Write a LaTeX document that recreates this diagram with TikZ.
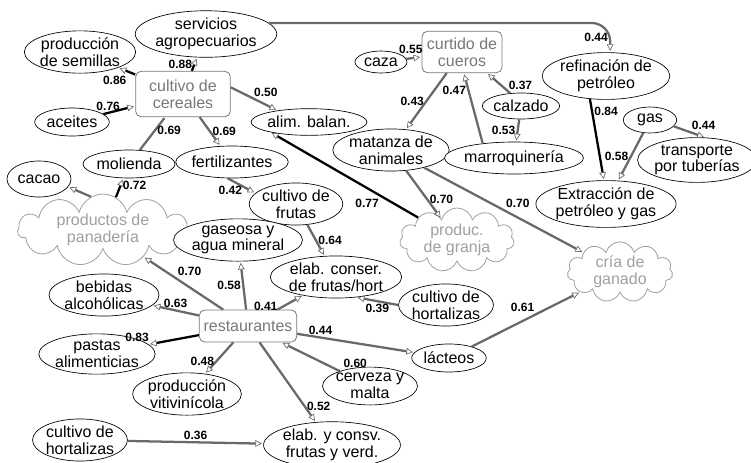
\documentclass[tikz,border=0pt]{standalone}
\usepackage{fontspec}
\setmainfont{Liberation Sans}
\usetikzlibrary{arrows.meta,shapes.geometric,shapes.symbols}

\definecolor{linkgray}{RGB}{105,105,105}
\definecolor{boxgray}{RGB}{120,120,120}
\definecolor{cloudgray}{RGB}{160,160,160}

\begin{document}
\begin{tikzpicture}[->,>={Triangle[open,length=5pt,width=5pt,line width=0.5pt,color=linkgray]},
                    shorten >=1pt,x=0.75pt,y=-0.75pt,line width=1.7pt]
  \tikzstyle{sector}=[ellipse,draw=black,line width=0.5pt,fill=white,align=center,
                      font=\fontsize{12}{12.5}\selectfont,inner xsep=-0.5pt,inner ysep=0.5pt,
                      minimum height=21pt]
  \tikzstyle{hub}=[rectangle,rounded corners=4pt,draw=boxgray,line width=0.6pt,fill=white,
                   text=boxgray,align=center,font=\fontsize{12}{13}\selectfont,inner sep=2pt]
  \tikzstyle{group}=[cloud,cloud puffs=11,cloud ignores aspect,draw=cloudgray,line width=0.6pt,
                     fill=white,text=cloudgray,align=center,font=\fontsize{12}{13}\selectfont,
                     inner sep=0pt]
  \tikzstyle{strong}=[draw=black]
  \tikzstyle{weak}=[draw=linkgray]
  \tikzstyle{wlabel}=[font=\fontsize{9}{10}\selectfont\bfseries,text=black,inner sep=1pt]

  \useasboundingbox (0,0) rectangle (751,462);

  % upper left: cereales
  \node[sector] (serv)  at (206,34)  {servicios\\agropecuarios};
  \node[sector] (semil) at (80,52)   {producción\\de semillas};
  \node[hub,minimum width=71pt,minimum height=34pt] (cereal) at (183,94) {cultivo de\\cereales};
  \node[sector,minimum width=56pt] (aceit) at (72,122)  {aceites};
  \node[sector,minimum width=81pt,minimum height=20pt] (alim) at (309,122) {alim. balan.};
  \node[sector,minimum width=69pt] (moli)  at (129,164) {molienda};
  \node[sector,minimum width=81pt,minimum height=24pt] (fert) at (232,162) {fertilizantes};
  \node[sector,minimum width=48pt,minimum height=27pt] (cacao) at (39,179) {cacao};
  \node[group,minimum width=128pt,minimum height=38pt] (panad) at (103,230) {productos de\\panadería};
  \node[sector] (frut)   at (296,204) {cultivo de\\frutas};
  \node[sector] (gaseo)  at (238,240) {gaseosa y\\agua mineral};
  \node[sector] (conser) at (336,277) {elab. conser.\\de frutas/hort};

  % lower left: restaurantes
  \node[sector] (bebid)  at (104,295) {bebidas\\alcohólicas};
  \node[hub,minimum width=73pt,minimum height=24pt] (resta) at (248,326) {restaurantes};
  \node[sector] (hortR)  at (446,305) {cultivo de\\hortalizas};
  \node[sector] (pasta)  at (97,354)  {pastas\\alimenticias};
  \node[sector] (vitiv)  at (187,394) {producción\\vitivinícola};
  \node[sector] (hortL)  at (80,440)  {cultivo de\\hortalizas};
  \node[sector] (consv)  at (332,445) {elab. y consv.\\frutas y verd.};
  \node[sector] (cerve)  at (370,386) {cerveza y\\malta};
  \node[sector,minimum width=56pt] (lacte) at (449,358) {lácteos};

  % right: cueros, ganado, petroleo
  \node[group,minimum width=79pt,minimum height=38pt] (cria)   at (620,272) {cría de\\ganado};
  \node[group,minimum width=86pt,minimum height=34pt] (granja) at (457,240) {produc.\\de granja};
  \node[sector] (matan)  at (391,150) {matanza de\\animales};
  \node[sector,minimum width=104pt,minimum height=24pt] (marro) at (514,158) {marroquinería};
  \node[sector,minimum width=58pt,minimum height=19.5pt] (calza) at (521,106) {calzado};
  \node[hub,minimum width=60pt,minimum height=31pt] (curti) at (462,52) {curtido de\\cueros};
  \node[sector,minimum width=39pt,minimum height=16.5pt] (caza) at (381,62) {caza};
  \node[sector] (refin)  at (606,76)  {refinación de\\petróleo};
  \node[sector,minimum width=40pt,minimum height=19.5pt] (gas) at (650,120) {gas};
  \node[sector] (trans)  at (697,160) {transporte\\por tuberías};
  \node[sector] (extra)  at (606,204) {Extracción de\\petróleo y gas};

  \path (cereal)      edge[strong] node[wlabel,left] {0.88} (serv)
        (cereal)      edge[strong] node[wlabel,pos=0.3,below left=1pt] {0.86} (semil)
        (aceit)       edge[strong] node[wlabel,pos=0.15,above] {0.76} (cereal)
        (cereal.8)    edge[weak] node[wlabel,pos=0.75,above=4pt] {0.50} (alim.160)
        (moli)        edge[weak,-] node[wlabel,pos=0.6,right] {0.69} (cereal)
        (cereal)      edge[weak] node[wlabel,right] {0.69} (fert)
        (panad)       edge[strong] node[wlabel,pos=0.6,right] {0.72} (moli)
        (panad.110)   edge[weak] (cacao.-15)
        (fert.-105)   edge[weak] node[wlabel,pos=0.1,below=3pt] {0.42} (frut.165)
        (frut)        edge[weak] node[wlabel,right] {0.64} (conser)
        (matan)       edge[weak] node[wlabel,pos=0.6,right] {0.70} (granja)
        (granja.150)  edge[strong] node[wlabel,pos=0.25,below left] {0.77} (alim.-165)
        (matan)       edge[weak] node[wlabel,above right] {0.70} (cria)
        (lacte)       edge[weak] node[wlabel,pos=0.6,above left] {0.61} (cria)
        (curti)       edge[weak] node[wlabel,left] {0.43} (matan)
        (marro.155)   edge[weak] node[wlabel,pos=0.75,left] {0.47} (curti.-85)
        (calza.130)   edge[weak] node[wlabel,pos=0.4,right=4pt] {0.37} (curti.-40)
        (calza)       edge[weak] node[wlabel,left] {0.53} (marro)
        (caza)        edge[weak] node[wlabel,pos=0.3,above=2pt] {0.55} (curti)
        (refin.235)   edge[strong] node[wlabel,pos=0.15,right] {0.84} (extra.95)
        (gas)         edge[weak] node[wlabel,left] {0.58} (extra)
        (gas.-15)     edge[weak] node[wlabel,above right=0pt] {0.44} (trans.70)
        (resta)       edge[weak] node[wlabel,pos=0.6,above right] {0.70} (panad)
        (resta)       edge[weak] node[wlabel,left] {0.58} (gaseo)
        (resta)       edge[weak] node[wlabel,pos=0.2,left=2pt] {0.41} (conser)
        (resta)       edge[weak] node[wlabel,above] {0.63} (bebid)
        (hortR.west)  edge[weak] node[wlabel,below] {0.39} (conser.-45)
        (resta)       edge[weak] node[wlabel,pos=0.2,above] {0.44} (lacte)
        (resta)       edge[strong] node[wlabel,pos=0.95,above left] {0.83} (pasta)
        (resta)       edge[weak] node[wlabel,pos=0.6,left] {0.48} (vitiv)
        (cerve)       edge[weak] node[wlabel,pos=0,above right=1pt] {0.60} (resta)
        (resta)       edge[weak] node[wlabel,pos=0.8,right] {0.52} (consv)
        (hortL)       edge[weak] node[wlabel,above] {0.36} (consv);

  \draw[weak,rounded corners=14pt] (serv.10) -| node[wlabel,pos=0.75,left] {0.44} (refin.80);
\end{tikzpicture}
\end{document}
